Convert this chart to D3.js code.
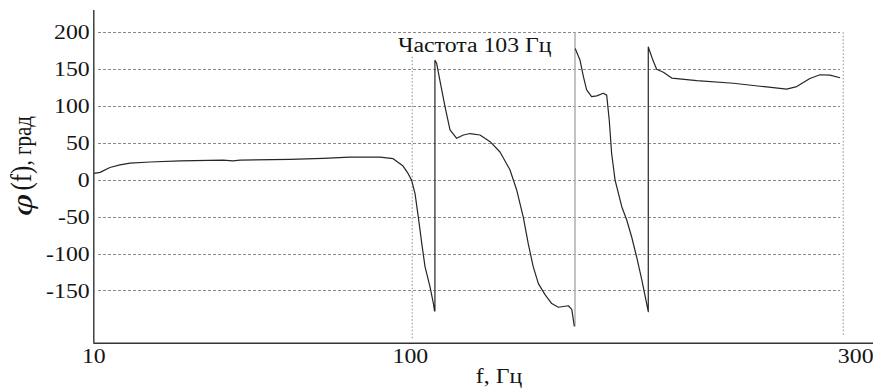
<!DOCTYPE html>
<html>
<head>
<meta charset="utf-8">
<script src="https://cdn.jsdelivr.net/npm/d3@7"></script>
<style>
  html, body { margin: 0; padding: 0; background: #fff; }
  svg { display: block; }
  text { font-family: "Liberation Serif", "Times New Roman", serif; fill: #151515; }
</style>
</head>
<body>
<svg id="chart" width="873" height="390"></svg>
<script>
// ---- data ----
const xTickValues = [10, 100, 300];
const xTickLabels = ["10", "100", "300"];
const yTickValues = [200, 150, 100, 50, 0, -50, -100, -150];
const yTickLabels = ["200", "150", "100", "50", "0", "-50", "-100", "-150"];

// segment before the marker (frequency, Hz ; phase, degrees)
const freqA = [10.2, 11.9, 14.7, 17.5, 20.4, 26.0, 34.5, 46.6, 49.4, 51.4, 65.5, 74.8, 82.4, 90.9, 94.6, 97.4, 98.8, 99.8, 101.25, 102.8, 104.4, 105.9, 108.2, 109.8, 110.3, 110.5,
               110.5, 111.3, 112.8, 115.2, 117.5, 120.6, 123.7, 126.8, 131.4, 136.1, 140.7, 145.3, 148.4, 151.5, 153.8, 156.1, 158.5, 161.6, 164.7, 167.8, 170.1, 172.4, 174.0, 175.2];
const phaseA = [9, 10.5, 17, 20.5, 23, 24.5, 26, 27, 26, 27, 28, 29.5, 31, 31, 29, 19, 9, 0, -18, -50, -86, -117, -144, -167, -177, -177,
                162, 158, 135, 99, 68, 56.5, 61, 63, 61, 52, 38, 14, -13, -50, -86, -117, -140, -155, -167, -172, -171, -170, -175, -198];

// segment after the marker
const freqB = [175.6, 177.8, 179.4, 180.9, 183.2, 185.6, 188.6, 190.2, 191.4, 192.5, 194.1, 197.2, 199.5, 201.8, 204.1, 206.5, 208.4, 209.5,
               209.5, 211.8, 213.4, 216.5, 220.4, 232.0, 249.0, 261.4, 273.7, 278.4, 284.5, 289.2, 293.8, 298.5];
const phaseB = [178, 162.5, 140, 122, 113, 114, 117.5, 115, 81, 36, 0, -36, -54, -77, -104, -135, -162, -178,
                180, 161, 150, 146, 138, 134.5, 131, 127, 123, 126.5, 137.5, 142.5, 142, 138.5];

const markerFreq = 175.5;
const markerLabel = "Частота 103 Гц";
const xTitle = "f, Гц";
const yTitleSymbol = "φ";
const yTitleArg = "(f)";
const yTitleUnit = ", град";

// ---- layout ----
const W = 873, H = 390;
const mLeft = 93.3, mRight = 843.3, mTop = 10.1, mBottom = 342.7;
const SX = 1.19; // horizontal stretch of the original lettering

const svg = d3.select("#chart");

const x = d3.scaleLinear().domain([10, 100, 300]).range([mLeft, 412.3, mRight]);
const y = d3.scaleLinear().domain([-220, 230]).range([mBottom, mTop]);

// horizontal grid
svg.append("g").selectAll("line").data(yTickValues).join("line")
  .attr("x1", mLeft + 5).attr("x2", mRight - 3)
  .attr("y1", d => y(d)).attr("y2", d => y(d))
  .attr("stroke", "#8a8a8a").attr("stroke-width", 1)
  .attr("stroke-dasharray", "2.5,2.5")
  .attr("shape-rendering", "crispEdges");

// vertical grid at 100 and 300
svg.append("line")
  .attr("x1", x(100)).attr("x2", x(100))
  .attr("y1", y(167)).attr("y2", y(-216))
  .attr("stroke", "#a0a0a0").attr("stroke-dasharray", "1.5,2").attr("stroke-width", 1.2);
svg.append("line")
  .attr("x1", x(300)).attr("x2", x(300))
  .attr("y1", y(200)).attr("y2", y(-211))
  .attr("stroke", "#a0a0a0").attr("stroke-dasharray", "1.5,2").attr("stroke-width", 1.2);

// marker line
svg.append("line")
  .attr("x1", x(markerFreq)).attr("x2", x(markerFreq))
  .attr("y1", y(200)).attr("y2", y(-198))
  .attr("stroke", "#b4b4b4").attr("stroke-width", 1.6);

// axes
const xAxis = d3.axisBottom(x).tickValues(xTickValues)
  .tickFormat((d, i) => xTickLabels[i]).tickSize(0).tickPadding(6);
const gx = svg.append("g").attr("transform", `translate(0,${mBottom})`).call(xAxis);
gx.select(".domain").attr("d", `M${mLeft},0.5H${W}`).attr("stroke", "#333").attr("stroke-width", 1.4);
gx.selectAll("text").attr("font-size", 20).attr("fill", "#151515")
  .attr("transform", `scale(${SX},1)`)
  .attr("x", d => d === 300 ? 10 : (d === 100 ? -2 : 0));

const yAxis = d3.axisLeft(y).tickValues(yTickValues)
  .tickFormat((d, i) => yTickLabels[i]).tickSize(0).tickPadding(3);
const gy = svg.append("g").attr("transform", `translate(${mLeft},0)`).call(yAxis);
gy.select(".domain").attr("d", `M0.5,${mTop}V${mBottom}`).attr("stroke", "#333").attr("stroke-width", 1.4);
gy.selectAll("text").attr("font-size", 20).attr("fill", "#151515")
  .attr("transform", `scale(${SX},1)`);

// curve
const line = d3.line().x(d => x(d[0])).y(d => y(d[1]));
const segA = freqA.map((f, i) => [f, phaseA[i]]);
const segB = freqB.map((f, i) => [f, phaseB[i]]);
[segA, segB].forEach(seg => {
  svg.append("path").datum(seg).attr("d", line)
    .attr("fill", "none").attr("stroke", "#262626").attr("stroke-width", 1.2)
    .attr("stroke-linejoin", "round");
});

// marker label
svg.append("text")
  .attr("transform", `translate(398,52) scale(${SX},1)`)
  .attr("font-size", 20).text(markerLabel);

// x title
svg.append("text")
  .attr("transform", `translate(499,383) scale(${SX},1)`)
  .attr("text-anchor", "middle").attr("font-size", 20).text(xTitle);

// y title
const yt = svg.append("text")
  .attr("transform", `translate(31,116) scale(${SX},1) rotate(-90)`)
  .attr("text-anchor", "end");
yt.append("tspan").attr("font-size", 25).text(yTitleArg);
yt.append("tspan").attr("font-size", 21).text(yTitleUnit);

svg.append("text")
  .attr("transform", `translate(32,205) scale(${SX},1.6) rotate(-90)`)
  .attr("text-anchor", "middle").attr("font-size", 25).attr("font-style", "italic")
  .text(yTitleSymbol);
</script>
</body>
</html>
